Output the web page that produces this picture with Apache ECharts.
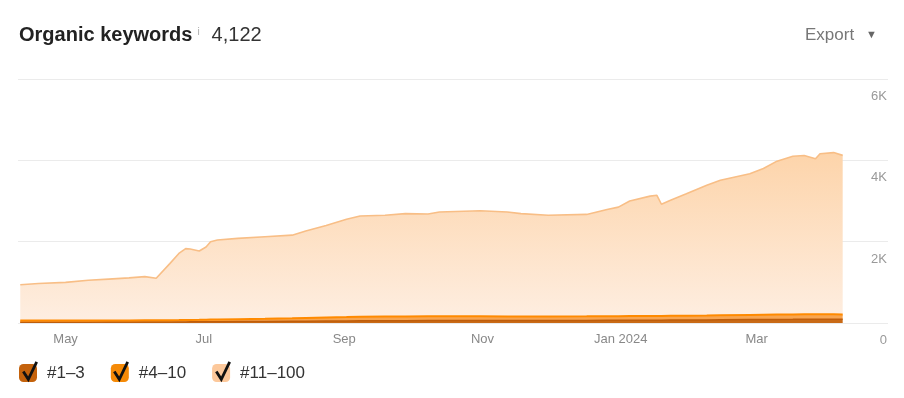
<!DOCTYPE html>
<html>
<head>
<meta charset="utf-8">
<script src="https://cdn.jsdelivr.net/npm/echarts@6/dist/echarts.min.js"></script>
<style>
html,body{margin:0;padding:0;background:#fff;}
#c{width:904px;height:398px;}
</style>
</head>
<body>
<div id="c"></div>
<script>
// ---- data ----
var dates = ['2023-04-11','2023-04-19','2023-05-01','2023-05-11','2023-05-20','2023-05-29','2023-06-05','2023-06-10','2023-06-16','2023-06-20','2023-06-23','2023-06-25','2023-06-29','2023-07-02','2023-07-04','2023-07-07','2023-07-16','2023-07-28','2023-08-09','2023-08-15','2023-08-24','2023-09-02','2023-09-08','2023-09-19','2023-09-28','2023-10-08','2023-10-13','2023-10-31','2023-11-12','2023-11-18','2023-11-30','2023-12-17','2023-12-26','2023-12-31','2024-01-05','2024-01-14','2024-01-17','2024-01-19','2024-01-23','2024-01-30','2024-02-08','2024-02-14','2024-02-27','2024-03-04','2024-03-10','2024-03-17','2024-03-22','2024-03-27','2024-03-29','2024-04-04','2024-04-08'];
var pos1to3 = [20,20,20,20,22,22,24,24,25,26,27,28,29,30,31,32,35,38,42,44,47,50,53,56,58,60,60,60,60,61,62,64,66,67,68,70,70,70,71,73,76,78,84,86,88,90,92,93,94,95,95];
var pos4to10 = [40,40,40,40,42,42,44,44,45,46,47,48,50,52,54,56,60,66,74,80,88,95,100,102,104,105,105,104,102,100,100,100,100,102,103,104,105,105,105,106,108,110,114,116,118,120,121,120,120,118,115];
var pos11to100 = [880,910,940,990,1016,1046,1072,1032,1390,1638,1756,1744,1691,1788,1915,1952,1985,2016,2044,2136,2265,2405,2477,2492,2528,2515,2565,2596,2568,2529,2488,2506,2624,2681,2829,2946,2965,2745,2844,3001,3206,3322,3472,3598,3774,3890,3907,3827,3946,3977,3912];
var seriesNames = ['#1\u20133', '#4\u201310', '#11\u2013100'];
var xTickDates = ['2023-05-01','2023-07-01','2023-09-01','2023-11-01','2024-01-01','2024-03-01'];
var xTickLabels = ['May','Jul','Sep','Nov','Jan 2024','Mar'];
var yTickValues = [0, 2000, 4000, 6000];
var yTickLabels = ['0', '2K', '4K', '6K'];
var totalLabel = '4,122';

// ---- helpers ----
function ts(s){ var p = s.split('-'); return new Date(+p[0], +p[1]-1, +p[2]).getTime(); }
function pairs(vals){ return dates.map(function(d,i){ return [ts(d), vals[i]]; }); }
var xTickTs = xTickDates.map(ts);

var font = "'Liberation Sans', Arial, sans-serif";
var colors = ['#c4620c', '#f58a07', '#fcc89b'];

var chart = echarts.init(document.getElementById('c'), null, {renderer:'canvas'});

function check(left){
  return {
    type: 'polyline', silent: true, z: 100,
    shape: {points: [[left+4.3, 371.5], [left+9.3, 379.3], [left+17.7, 361.8]]},
    style: {stroke: '#111', lineWidth: 2.8, fill: null, lineJoin: 'miter'}
  };
}

var option = {
  animation: false,
  textStyle: {fontFamily: font},
  title: {
    left: 19, top: 25, padding: 0,
    text: '{a|Organic keywords}{i|i}{b|' + totalLabel + '}',
    textStyle: {
      rich: {
        a: {fontSize: 20, fontWeight: 'bold', color: '#222', fontFamily: font},
        i: {fontSize: 10, fontWeight: 'normal', color: '#aaa', padding: [0, 12, 6, 5], fontFamily: font},
        b: {fontSize: 20, fontWeight: 'normal', color: '#333', fontFamily: font}
      }
    }
  },
  legend: {
    data: seriesNames.map(function(n, i){ return {name: n, itemStyle: {color: colors[i]}}; }),
    left: 19, top: 364, padding: 0, itemGap: 26,
    icon: 'roundRect', itemWidth: 18, itemHeight: 18,
    selectedMode: false,
    textStyle: {fontSize: 17, color: '#333', fontFamily: font, padding: [0,0,0,5]}
  },
  graphic: [
    {type: 'text', left: 805, top: 27, style: {text: 'Export', fontSize: 17, fill: '#777', fontFamily: font}},
    {type: 'text', left: 866, top: 29, style: {text: '\u25BC', fontSize: 11, fill: '#666', fontFamily: font}},
    check(19), check(110), check(212)
  ],
  grid: {left: 18, right: 16, top: 79, bottom: 75},
  xAxis: {
    type: 'time',
    min: ts('2023-04-10'), max: ts('2024-04-28'),
    splitNumber: 6,
    axisLine: {show: false},
    axisTick: {show: false},
    splitLine: {show: false},
    axisLabel: {
      margin: 10, hideOverlap: false, showMinLabel: false, showMaxLabel: false,
      fontSize: 13, color: '#888', fontFamily: font, fontWeight: 'normal',
      formatter: function(v){ var i = xTickTs.indexOf(v); return i >= 0 ? xTickLabels[i] : ''; }
    }
  },
  yAxis: {
    type: 'value', position: 'right',
    min: 0, max: 6000, interval: 2000,
    axisLine: {show: false}, axisTick: {show: false},
    splitLine: {lineStyle: {color: '#ebebeb', width: 1}},
    axisLabel: {
      inside: true, margin: 1, verticalAlign: 'top', padding: [11, 0, 0, 0],
      fontSize: 13, color: '#999', fontFamily: font,
      formatter: function(v){ var i = yTickValues.indexOf(v); return i >= 0 ? yTickLabels[i] : ''; }
    }
  },
  series: [
    {
      name: seriesNames[0], type: 'line', stack: 'kw', symbol: 'none',
      data: pairs(pos1to3),
      lineStyle: {color: '#bf5d0a', width: 1.5},
      itemStyle: {color: colors[0]},
      areaStyle: {color: '#c96a16', opacity: 1}
    },
    {
      name: seriesNames[1], type: 'line', stack: 'kw', symbol: 'none',
      data: pairs(pos4to10),
      lineStyle: {color: '#ff8a00', width: 2},
      itemStyle: {color: colors[1]},
      areaStyle: {color: '#f8a550', opacity: 1}
    },
    {
      name: seriesNames[2], type: 'line', stack: 'kw', symbol: 'none',
      data: pairs(pos11to100),
      lineStyle: {color: '#f8be86', width: 1.6},
      itemStyle: {color: colors[2]},
      areaStyle: {
        opacity: 1,
        color: new echarts.graphic.LinearGradient(0, 0, 0, 1, [
          {offset: 0, color: '#fdd4aa'},
          {offset: 1, color: '#feeee1'}
        ])
      }
    }
  ]
};
chart.setOption(option);
</script>
</body>
</html>
